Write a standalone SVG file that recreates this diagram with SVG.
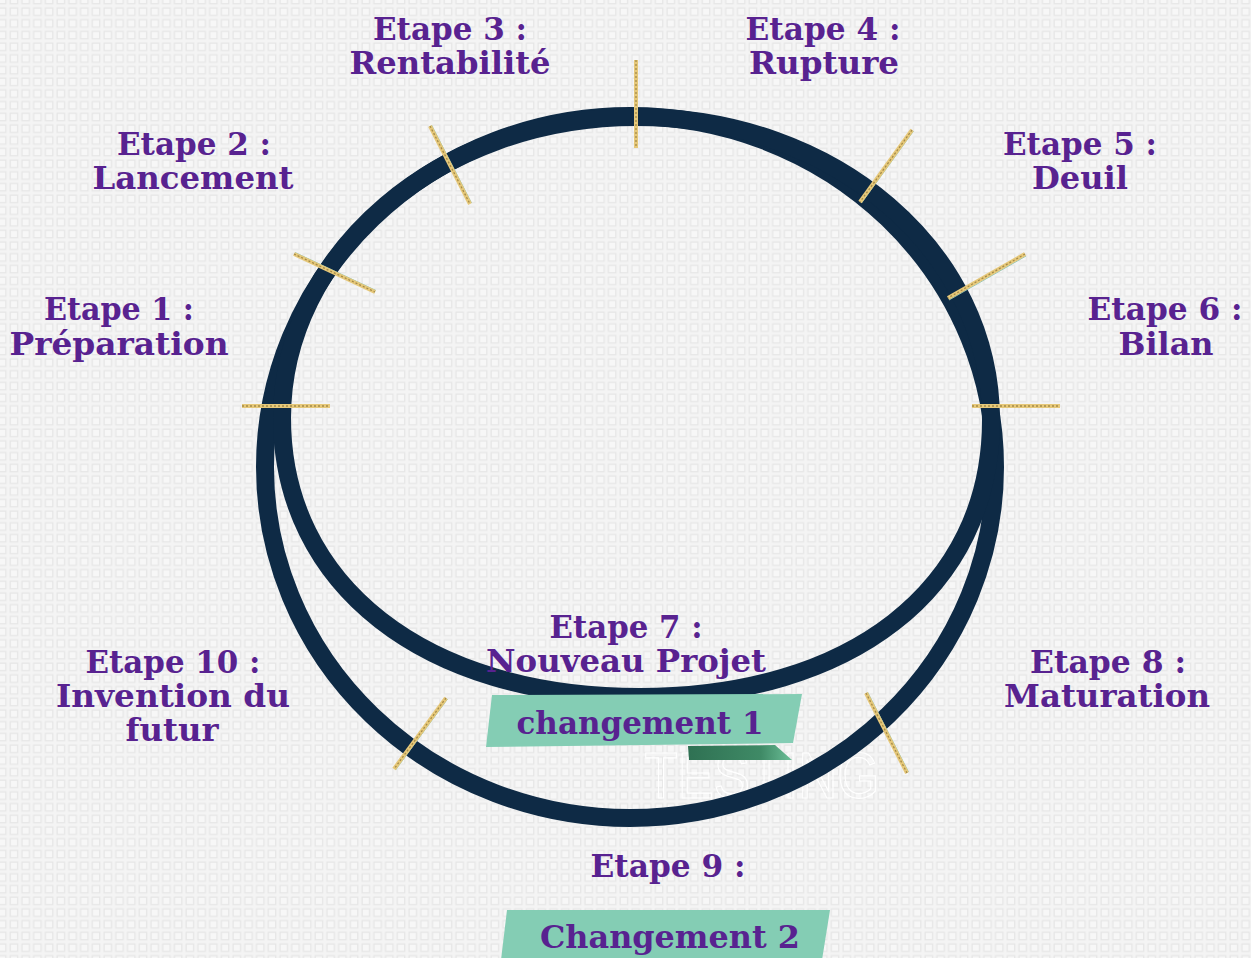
<svg xmlns="http://www.w3.org/2000/svg" width="1251" height="958" viewBox="0 0 1251 958">
  <defs>
    <pattern id="grid" patternUnits="userSpaceOnUse" x="-3.6" y="-5.8" width="11.73" height="11.7">
      <rect x="0" y="0" width="11.73" height="11.7" fill="#f4f4f4"/>
      <rect x="2.1" y="2.1" width="7.4" height="7.4" fill="#f7f7f7" stroke="#e6e6e6" stroke-width="1.2"/>
    </pattern>
    <linearGradient id="fold" x1="0" y1="0" x2="1" y2="0">
      <stop offset="0" stop-color="#2f7153"/>
      <stop offset="0.7" stop-color="#3f8a66"/>
      <stop offset="1" stop-color="#6cbf98"/>
    </linearGradient>
    <style>
      .lbl { font-family: "DejaVu Serif", "Liberation Serif", serif; font-weight: bold; font-size: 31px; fill: #582290; text-anchor: middle; }
      .ring { fill: none; stroke: #0e2a45; stroke-width: 18; }
      .tick { stroke: #e6c87a; stroke-width: 4; stroke-linecap: butt; }
      .tick2 { stroke: #a48a48; stroke-width: 1.3; stroke-dasharray: 2 2; }
      .tick3 { stroke: #8fc4b6; stroke-width: 1; }
      .rib { fill: #84cdb4; }
    </style>
  </defs>

  <rect width="1251" height="958" fill="url(#grid)"/>

  <!-- watermark -->
  <text x="762" y="798" font-family="Liberation Sans, sans-serif" font-size="64" fill="none" stroke="#ffffff" stroke-width="1.2" text-anchor="middle" textLength="235" lengthAdjust="spacingAndGlyphs">TESTING</text>

  <g id="connectors">
    <ellipse class="ring" cx="630" cy="467" rx="365" ry="351"/>
    <path class="ring" d="M 636 117 C 836 117 991 252 991 420 C 991 590 849 697 640 697 C 425 697 282 585 282 418 C 282 252 440 117 636 117 Z"/>
  </g>

  <g id="ticks">
    <g>
      <line class="tick3" x1="637.5" y1="60" x2="637.5" y2="148"/>
      <line class="tick" x1="636" y1="60" x2="636" y2="148"/>
      <line class="tick2" x1="636" y1="60" x2="636" y2="148"/>
    </g>
    <g>
      <line class="tick3" x1="431.5" y1="125" x2="471.5" y2="203"/>
      <line class="tick" x1="430" y1="126" x2="470" y2="204"/>
      <line class="tick2" x1="430" y1="126" x2="470" y2="204"/>
    </g>
    <g>
      <line class="tick3" x1="295" y1="252.5" x2="376" y2="290.5"/>
      <line class="tick" x1="294" y1="254" x2="375" y2="292"/>
      <line class="tick2" x1="294" y1="254" x2="375" y2="292"/>
    </g>
    <g>
      <line class="tick3" x1="242" y1="404.5" x2="330" y2="404.5"/>
      <line class="tick" x1="242" y1="406" x2="330" y2="406"/>
      <line class="tick2" x1="242" y1="406" x2="330" y2="406"/>
    </g>
    <g>
      <line class="tick3" x1="913.5" y1="131" x2="861.5" y2="203"/>
      <line class="tick" x1="912" y1="130" x2="860" y2="202"/>
      <line class="tick2" x1="912" y1="130" x2="860" y2="202"/>
    </g>
    <g>
      <line class="tick3" x1="1026" y1="256" x2="949" y2="300"/>
      <line class="tick" x1="1025" y1="254" x2="948" y2="298"/>
      <line class="tick2" x1="1025" y1="254" x2="948" y2="298"/>
    </g>
    <g>
      <line class="tick3" x1="972" y1="404.5" x2="1060" y2="404.5"/>
      <line class="tick" x1="972" y1="406" x2="1060" y2="406"/>
      <line class="tick2" x1="972" y1="406" x2="1060" y2="406"/>
    </g>
    <g>
      <line class="tick3" x1="867.5" y1="692" x2="908.5" y2="772"/>
      <line class="tick" x1="866" y1="693" x2="907" y2="773"/>
      <line class="tick2" x1="866" y1="693" x2="907" y2="773"/>
    </g>
    <g>
      <line class="tick3" x1="447.5" y1="699" x2="395.5" y2="770"/>
      <line class="tick" x1="446" y1="698" x2="394" y2="769"/>
      <line class="tick2" x1="446" y1="698" x2="394" y2="769"/>
    </g>
  </g>

  <g id="etape3">
    <text class="lbl" x="450" y="40" textLength="154" lengthAdjust="spacingAndGlyphs">Etape 3 :</text>
    <text class="lbl" x="450" y="74" textLength="201" lengthAdjust="spacingAndGlyphs">Rentabilité</text>
  </g>
  <g id="etape4">
    <text class="lbl" x="823" y="40" textLength="155" lengthAdjust="spacingAndGlyphs">Etape 4 :</text>
    <text class="lbl" x="824" y="74" textLength="150" lengthAdjust="spacingAndGlyphs">Rupture</text>
  </g>
  <g id="etape2">
    <text class="lbl" x="194" y="155" textLength="154" lengthAdjust="spacingAndGlyphs">Etape 2 :</text>
    <text class="lbl" x="193" y="189" textLength="201" lengthAdjust="spacingAndGlyphs">Lancement</text>
  </g>
  <g id="etape5">
    <text class="lbl" x="1080" y="155" textLength="154" lengthAdjust="spacingAndGlyphs">Etape 5 :</text>
    <text class="lbl" x="1080" y="189" textLength="96" lengthAdjust="spacingAndGlyphs">Deuil</text>
  </g>
  <g id="etape1">
    <text class="lbl" x="119" y="320" textLength="150" lengthAdjust="spacingAndGlyphs">Etape 1 :</text>
    <text class="lbl" x="119" y="355" textLength="219" lengthAdjust="spacingAndGlyphs">Préparation</text>
  </g>
  <g id="etape6">
    <text class="lbl" x="1165" y="320" textLength="155" lengthAdjust="spacingAndGlyphs">Etape 6 :</text>
    <text class="lbl" x="1166" y="355" textLength="95" lengthAdjust="spacingAndGlyphs">Bilan</text>
  </g>
  <g id="etape7">
    <text class="lbl" x="626" y="638" textLength="153" lengthAdjust="spacingAndGlyphs">Etape 7 :</text>
    <text class="lbl" x="626" y="672" textLength="280" lengthAdjust="spacingAndGlyphs">Nouveau Projet</text>
  </g>
  <g id="etape10">
    <text class="lbl" x="173" y="673" textLength="175" lengthAdjust="spacingAndGlyphs">Etape 10 :</text>
    <text class="lbl" x="173" y="707" textLength="234" lengthAdjust="spacingAndGlyphs">Invention du</text>
    <text class="lbl" x="172" y="741" textLength="93" lengthAdjust="spacingAndGlyphs">futur</text>
  </g>
  <g id="etape8">
    <text class="lbl" x="1108" y="673" textLength="156" lengthAdjust="spacingAndGlyphs">Etape 8 :</text>
    <text class="lbl" x="1107" y="707" textLength="206" lengthAdjust="spacingAndGlyphs">Maturation</text>
  </g>
  <g id="changement1">
    <polygon points="688,746 775,745 792,760 689,760" fill="url(#fold)"/>
    <polygon class="rib" points="492,695 802,694 793,743 486,747"/>
    <text class="lbl" x="640" y="734" textLength="247" lengthAdjust="spacingAndGlyphs">changement 1</text>
  </g>
  <g id="etape9">
    <text class="lbl" x="668" y="877" textLength="155" lengthAdjust="spacingAndGlyphs">Etape 9 :</text>
  </g>
  <g id="changement2">
    <polygon class="rib" points="507,910 830,910 822,960 501,960"/>
    <text class="lbl" x="670" y="948" textLength="260" lengthAdjust="spacingAndGlyphs">Changement 2</text>
  </g>
</svg>
